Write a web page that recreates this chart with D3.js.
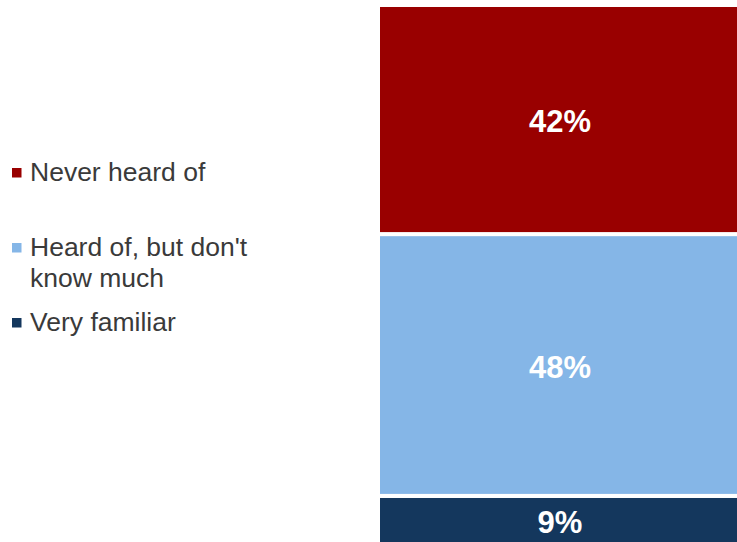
<!DOCTYPE html>
<html><head><meta charset="utf-8">
<script src="https://cdn.jsdelivr.net/npm/d3@7"></script>
<style>html,body{margin:0;padding:0;background:#fff;}svg{display:block;}</style>
</head><body>
<script>
const categories = ["Very familiar", "Heard of, but don't know much", "Never heard of"];
const values = [9, 48, 42];
const colors = ["#14375d", "#85b6e7", "#990000"];
const legendOrder = [2, 1, 0];
const legendLines = [["Never heard of"], ["Heard of, but don't", "know much"], ["Very familiar"]];

const W = 737, H = 542;
const svg = d3.select("body").append("svg").attr("width", W).attr("height", H);

let cum = 0;
const segs = values.map((v, i) => { const s = {v, i, y0: cum, y1: cum + v}; cum += v; return s; });

const y = d3.scaleLinear().domain([0, d3.sum(values)]).range([545, 5]);
const x = d3.scaleBand().domain(["All"]).range([378, 740]).padding(0);

svg.selectAll("rect.seg").data(segs).enter().append("rect")
  .attr("class", "seg")
  .attr("x", x("All")).attr("width", x.bandwidth())
  .attr("y", d => y(d.y1)).attr("height", d => y(d.y0) - y(d.y1))
  .attr("fill", d => colors[d.i])
  .attr("stroke", "#fff").attr("stroke-width", 4);

svg.selectAll("text.lbl").data(segs).enter().append("text")
  .attr("class", "lbl")
  .attr("x", 560)
  .attr("y", d => (y(d.y0) + y(d.y1)) / 2 + 1.5)
  .attr("dy", "0.36em")
  .attr("text-anchor", "middle")
  .attr("font-family", "Liberation Sans, Arial, sans-serif")
  .attr("font-weight", "bold").attr("font-size", 31)
  .attr("fill", "#fff")
  .text(d => d.v + "%");

const legY = [181, 256, 331];
const leg = svg.selectAll("g.leg").data(legendOrder).enter().append("g").attr("class", "leg");
leg.append("rect")
  .attr("x", 12).attr("y", (d, k) => legY[k] - 13)
  .attr("width", 9.5).attr("height", 9.5)
  .attr("fill", d => colors[d]);
leg.each(function(d, k) {
  const t = d3.select(this).append("text")
    .attr("font-family", "Liberation Sans, Arial, sans-serif")
    .attr("font-size", 26.5).attr("fill", "#3a3a3a");
  legendLines[k].forEach((ln, j) => {
    t.append("tspan").attr("x", 30).attr("y", legY[k] + j * 30.5).text(ln);
  });
});
</script>
</body></html>
